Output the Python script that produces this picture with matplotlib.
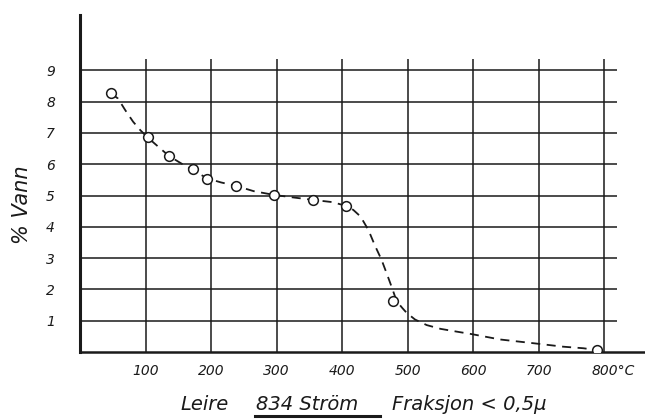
import matplotlib.pyplot as plt
from matplotlib.lines import Line2D

# measured points (temperature in °C, % water)
temp = [47, 103, 136, 173, 194, 238, 296, 356, 406, 478, 789]
vann = [8.27, 6.86, 6.26, 5.84, 5.52, 5.31, 5.02, 4.86, 4.67, 1.64, 0.06]

# hand drawn dashed curve
curve_x = [47, 58, 69, 81, 92, 103, 120, 136, 155, 173, 194, 215, 238, 265,
           296, 325, 356, 385, 406, 417, 428, 440, 450, 460, 469, 476, 481,
           486, 492, 498, 511, 529, 550, 575, 598, 641, 692, 737, 768, 789]
curve_y = [8.27, 8.10, 7.73, 7.36, 7.09, 6.86, 6.55, 6.26, 6.02, 5.80, 5.55,
           5.42, 5.31, 5.14, 5.02, 4.94, 4.86, 4.79, 4.67, 4.54, 4.33, 3.90,
           3.40, 2.95, 2.45, 2.05, 1.75, 1.55, 1.40, 1.26, 1.04, 0.86, 0.74,
           0.65, 0.57, 0.40, 0.28, 0.17, 0.12, 0.06]

x_grid = [100, 200, 300, 400, 500, 600, 700, 800]
x_labels = ['100', '200', '300', '400', '500', '600', '700', '800°C']
y_grid = [1, 2, 3, 4, 5, 6, 7, 8, 9]
y_labels = ['1', '2', '3', '4', '5', '6', '7', '8', '9']

ink = '#1a1a1a'
W, H = 645, 419

fig = plt.figure(figsize=(W / 100, H / 100), dpi=100)
ax = fig.add_axes([80 / W, (H - 352) / H, (W - 80) / W, (352 - 15) / H])
ax.set_xlim(0, 862)
ax.set_ylim(0, 10.77)

# grid
ax.hlines(y_grid, 0, 820, color=ink, lw=1.1)
ax.vlines(x_grid, 0, 9.35, color=ink, lw=1.1)

for side in ['top', 'right']:
    ax.spines[side].set_visible(False)
ax.spines['left'].set_linewidth(2.2)
ax.spines['bottom'].set_linewidth(1.8)
ax.spines['left'].set_color(ink)
ax.spines['bottom'].set_color(ink)

ax.plot(curve_x, curve_y, color=ink, lw=1.3, linestyle=(0, (5, 3.6)))
ax.plot(temp, vann, 'o', ms=7, mfc='white', mec=ink, mew=1.1, zorder=5)

ax.tick_params(length=0)
ax.set_xticks([])
ax.set_yticks(y_grid)
ax.set_yticklabels(y_labels, fontsize=10, style='italic', color=ink)
ax.tick_params(axis='y', pad=18)

trans = ax.get_xaxis_transform()
for xv, lbl in zip(x_grid, x_labels):
    if lbl.endswith('C'):
        ax.text(xv - 20, -0.055, lbl, transform=trans, ha='left', va='center',
                fontsize=10, style='italic', color=ink)
    else:
        ax.text(xv, -0.055, lbl, transform=trans, ha='center', va='center',
                fontsize=10, style='italic', color=ink)

fig.text(22 / W, 1 - 205 / H, '% Vann', rotation=90, ha='center', va='center',
         fontsize=15, style='italic', color=ink)

# title with the underlined part
fig.text(180 / W, 1 - 404 / H, 'Leire', fontsize=14, style='italic',
         va='center', color=ink)
fig.text(256 / W, 1 - 404 / H, '834 Ström', fontsize=14, style='italic',
         va='center', color=ink)
fig.text(392 / W, 1 - 404 / H, 'Fraksjon < 0,5μ', fontsize=14,
         style='italic', va='center', color=ink)
fig.add_artist(Line2D([255 / W, 380 / W], [1 - 416 / H, 1 - 416 / H],
                      transform=fig.transFigure, color=ink, lw=2.2))

fig.savefig('out.png', dpi=100, facecolor='white')
